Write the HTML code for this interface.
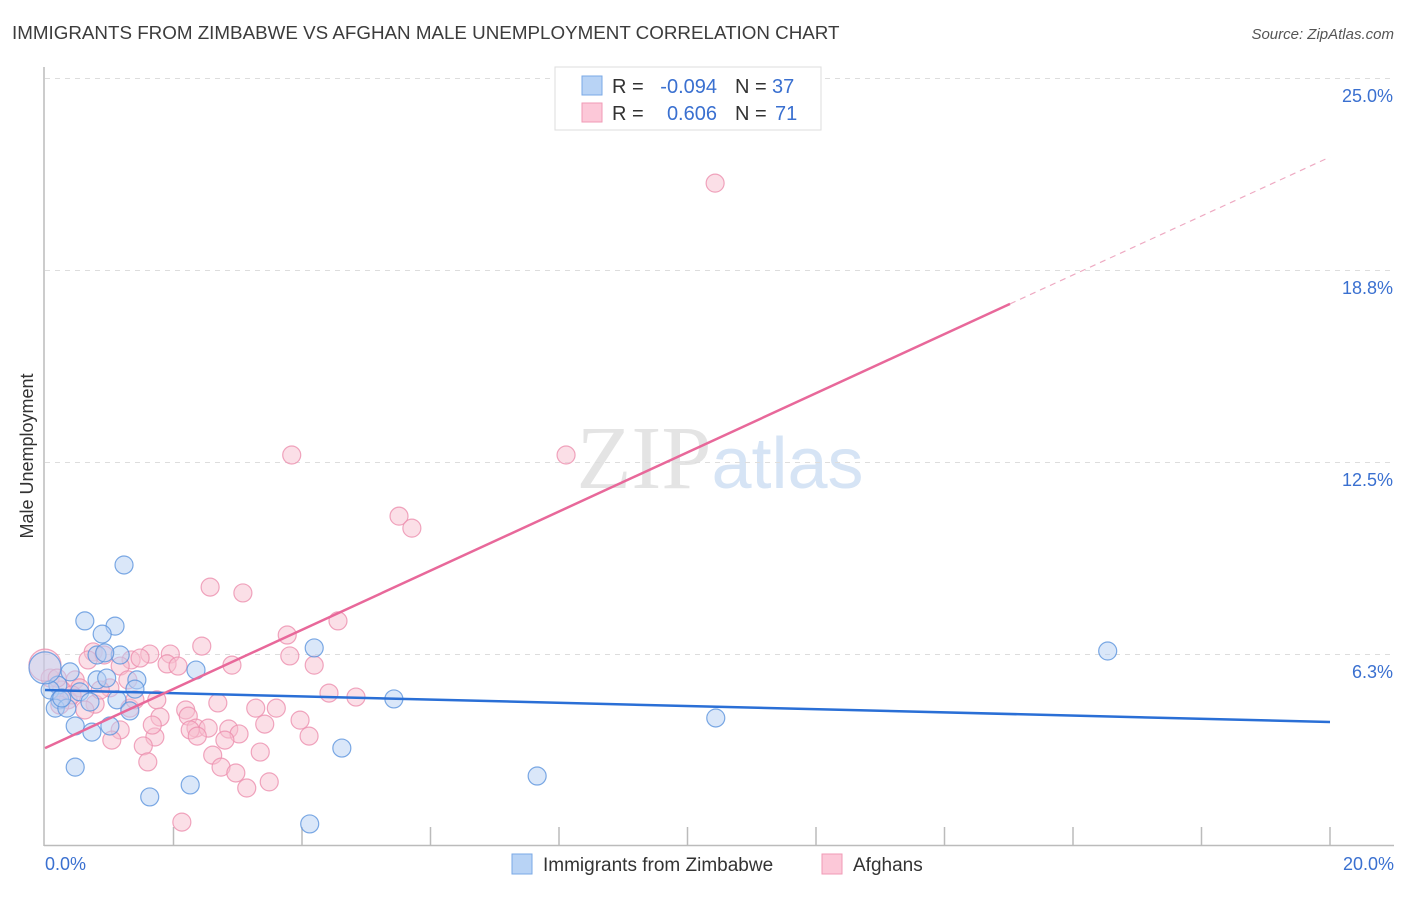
<!DOCTYPE html>
<html><head><meta charset="utf-8"><style>
body{margin:0;background:#fff;font-family:"Liberation Sans",sans-serif;}
svg text{font-family:"Liberation Sans",sans-serif;}
</style></head><body>
<svg id="chart" width="1406" height="892" xmlns="http://www.w3.org/2000/svg">
<text x="12" y="39" font-size="18.8" fill="#3c3c3c">IMMIGRANTS FROM ZIMBABWE VS AFGHAN MALE UNEMPLOYMENT CORRELATION CHART</text>
<text x="1394" y="39" font-size="15" fill="#555" text-anchor="end" font-style="italic">Source: ZipAtlas.com</text>
<text x="720" y="488" font-size="90" text-anchor="middle"><tspan fill="#e4e4e4" font-family="Liberation Serif">ZIP</tspan><tspan fill="#d6e4f5" font-size="72">atlas</tspan></text>
<g id="grid"></g><g id="axes"></g><g id="pts"></g><g id="lines"></g>
<text transform="translate(33,456) rotate(-90)" font-size="18" fill="#333" text-anchor="middle">Male Unemployment</text>
<g>
<rect x="555" y="67" width="266" height="63" fill="#fff" stroke="#ddd"/>
<rect x="582" y="76" width="20" height="19" fill="#b8d3f5" stroke="#7aa8e6"/>
<rect x="582" y="103" width="20" height="19" fill="#fcc8d8" stroke="#f09ab6"/>
<text x="612" y="93" font-size="20" fill="#333">R =</text>
<text x="717" y="93" font-size="20" fill="#3a70d0" text-anchor="end">-0.094</text>
<text x="735" y="93" font-size="20" fill="#333">N =</text>
<text x="772" y="93" font-size="20" fill="#3a70d0">37</text>
<text x="612" y="120" font-size="20" fill="#333">R =</text>
<text x="717" y="120" font-size="20" fill="#3a70d0" text-anchor="end">0.606</text>
<text x="735" y="120" font-size="20" fill="#333">N =</text>
<text x="775" y="120" font-size="20" fill="#3a70d0">71</text>
</g>
<g>
<rect x="512" y="854" width="20" height="20" fill="#b8d3f5" stroke="#7aa8e6"/>
<text x="543" y="871" font-size="19" fill="#333">Immigrants from Zimbabwe</text>
<rect x="822" y="854" width="20" height="20" fill="#fcc8d8" stroke="#f09ab6"/>
<text x="853" y="871" font-size="19" fill="#333">Afghans</text>
</g>
</svg>
<script>
const yTicks=[6.25,12.5,18.75,25];
const yTickLabels=["6.3%","12.5%","18.8%","25.0%"];
const xTickVals=[2,4,6,8,10,12,14,16,18,20];
const blueX=[1.23,0.62,1.09,0.89,0.81,1.17,0.93,0.39,1.43,0.81,0.96,0.20,0.08,1.40,0.54,1.12,0.70,0.23,0.16,0.34,1.32,1.01,0.47,0.73,2.35,4.19,5.43,0.47,1.63,2.26,4.62,4.12,7.66,10.44,16.54,0.0,0.26];
const blueY=[9.18,7.36,7.19,6.93,6.25,6.25,6.32,5.70,5.44,5.44,5.50,5.27,5.11,5.14,5.05,4.79,4.72,4.79,4.52,4.52,4.43,3.94,3.94,3.74,5.76,6.48,4.82,2.60,1.63,2.02,3.22,0.75,2.31,4.20,6.38,5.83,4.85];
const pinkX=[10.43,3.84,8.11,5.51,5.71,2.57,3.08,4.56,3.77,2.44,3.81,4.19,2.91,0.75,0.92,1.63,1.95,1.34,1.48,1.90,2.07,1.17,1.29,1.01,0.47,0.26,0.08,0.0,0.36,0.78,0.62,1.74,2.69,3.28,3.60,4.42,4.84,2.19,2.23,1.79,1.32,1.17,1.04,1.71,1.53,2.35,2.54,2.26,2.37,2.86,3.02,3.42,4.11,2.61,2.74,1.60,3.35,2.97,3.14,3.49,2.13,0.19,0.54,0.86,0.42,1.40,0.23,0.67,2.80,3.97,1.67];
const pinkY=[21.61,12.76,12.76,10.77,10.38,8.46,8.27,7.36,6.90,6.54,6.22,5.92,5.92,6.35,6.25,6.28,6.28,6.09,6.15,5.96,5.89,5.89,5.44,5.18,5.44,5.11,5.50,5.92,4.79,4.65,4.46,4.79,4.69,4.52,4.52,5.01,4.88,4.46,4.26,4.23,4.52,3.81,3.48,3.58,3.29,3.87,3.87,3.81,3.61,3.84,3.68,4.00,3.61,2.99,2.60,2.77,3.09,2.41,1.92,2.12,0.81,5.50,5.18,5.11,4.95,4.79,4.62,6.09,3.48,4.13,3.97];
const blueLine=[5.11,4.07];
const pinkLine=[3.22,17.68,22.46];
const pinkLineX=[0,15.02,20];
const NS="http://www.w3.org/2000/svg";
const X=v=>45+v/20*1285, Y=v=>847-v/25*768;
function mk(t,a,p){const e=document.createElementNS(NS,t);for(const k in a)e.setAttribute(k,a[k]);document.getElementById(p).appendChild(e);return e;}
yTicks.forEach((t,i)=>{
 const g=mk('line',{x1:45,x2:1394,y1:Y(t)-0.5,y2:Y(t)-0.5,stroke:'#ddd','stroke-dasharray':'5,5'},'grid');
 
 
 const l=mk('text',{x:1393,y:Y(t)+23,'font-size':18,fill:'#3a70d0','text-anchor':'end'},'grid');
 l.textContent=yTickLabels[i];
 
 
});
const ax=mk('line',{x1:44,x2:44,y1:67,y2:846,stroke:'#bbb','stroke-width':1.5},'axes');


const bx=mk('line',{x1:44,x2:1394,y1:845.5,y2:845.5,stroke:'#bbb','stroke-width':1.5},'axes');


xTickVals.forEach(v=>{const t=mk('line',{x1:X(v),x2:X(v),y1:827,y2:845,stroke:'#bbb','stroke-width':1.5},'axes');
 
 });
const x0=mk('text',{x:45,y:870,'font-size':18,fill:'#3a70d0'},'axes');x0.textContent='0.0%';


const x1=mk('text',{x:1394,y:870,'font-size':18,fill:'#3a70d0','text-anchor':'end'},'axes');x1.textContent='20.0%';


function pts(xs,ys,fill,stroke,name){xs.forEach((v,i)=>{const big=v===0;
 const c=mk('circle',{cx:X(v),cy:Y(ys[i]),r:big?16:9,fill:fill,'fill-opacity':big?0.45:0.5,stroke:stroke,'stroke-width':1.2,'stroke-opacity':0.8},'pts');
 
 });}
pts(pinkX,pinkY,'#f8bfd0','#ec8fae','afghan-point');
pts(blueX,blueY,'#b5d0f3','#5b93dd','zimbabwe-point');
const bl=mk('line',{x1:X(0),y1:Y(blueLine[0]),x2:X(20),y2:Y(blueLine[1]),stroke:'#2a6fd6','stroke-width':2.5},'lines');


const pl=mk('line',{x1:X(pinkLineX[0]),y1:Y(pinkLine[0]),x2:X(pinkLineX[1]),y2:Y(pinkLine[1]),stroke:'#e8689a','stroke-width':2.5},'lines');


const pd=mk('line',{x1:X(pinkLineX[1]),y1:Y(pinkLine[1]),x2:X(pinkLineX[2]),y2:Y(pinkLine[2]),stroke:'#eeaac2','stroke-width':1.2,'stroke-dasharray':'6,5'},'lines');


</script>
</body></html>
